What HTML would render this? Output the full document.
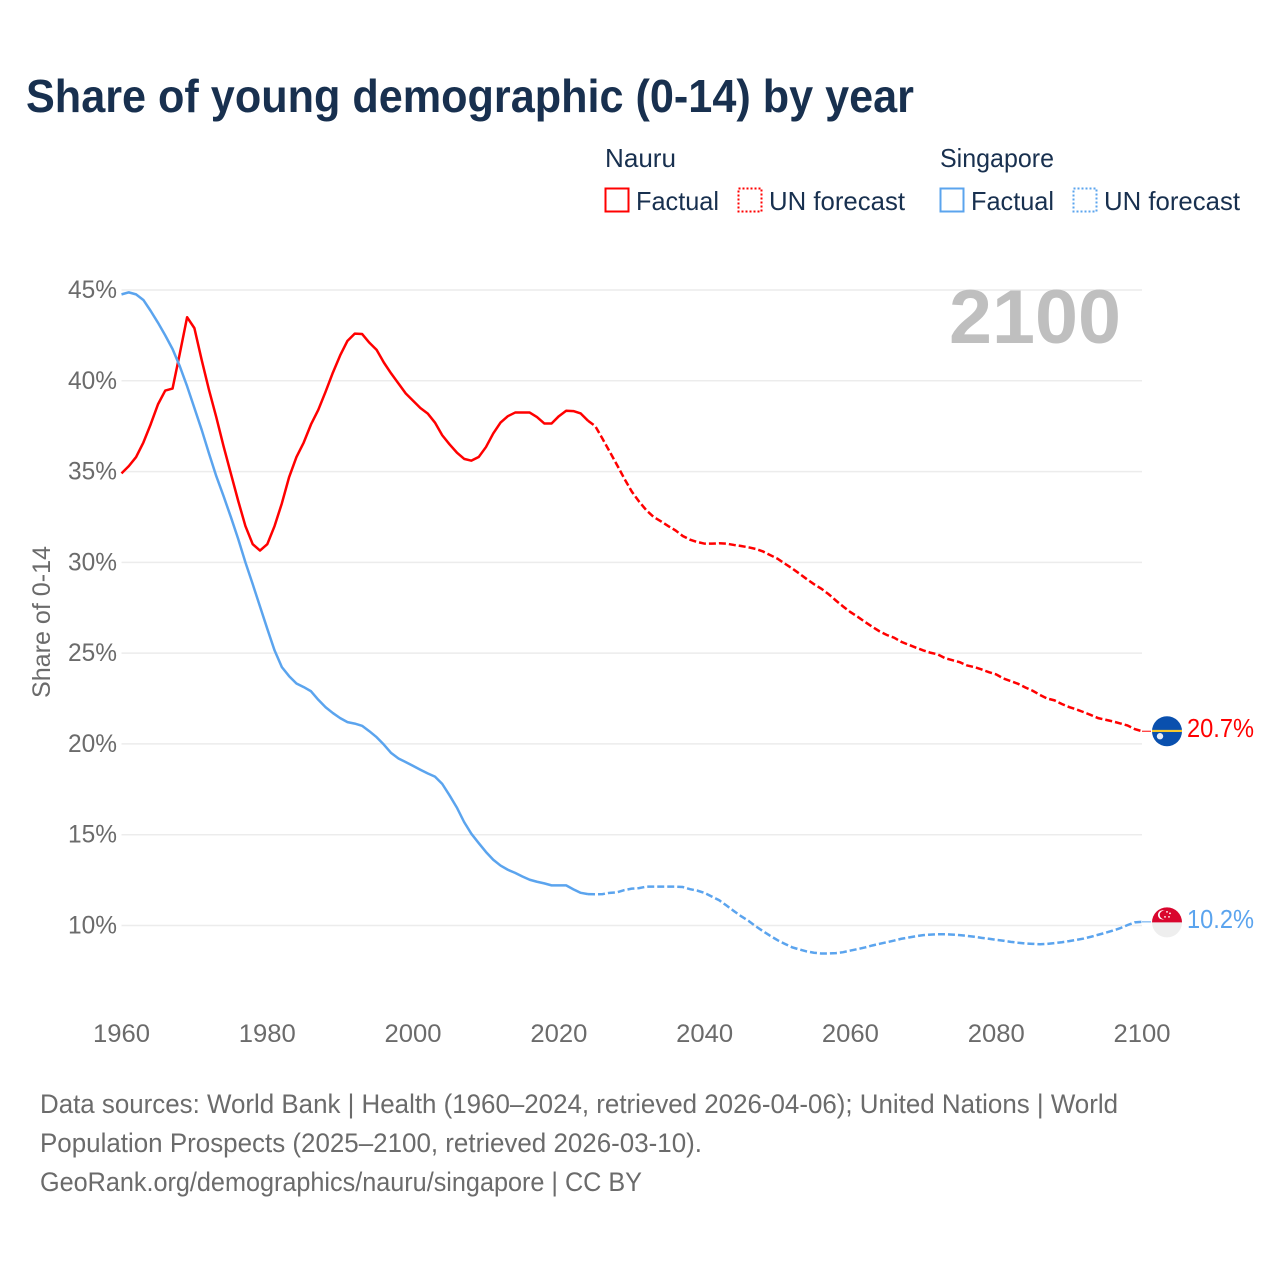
<!DOCTYPE html>
<html lang="en">
<head>
<meta charset="utf-8">
<title>Share of young demographic (0-14) by year</title>
<style>
html,body{margin:0;padding:0;background:#fff;}
svg{display:block;font-family:"Liberation Sans",sans-serif;}
</style>
</head>
<body>
<svg id="chart" xmlns="http://www.w3.org/2000/svg" width="1280" height="1280" viewBox="0 0 1280 1280">
  <rect x="0" y="0" width="1280" height="1280" fill="#ffffff"/>
  <text x="26" y="112" font-size="46" font-weight="700" fill="#18304f" textLength="888" lengthAdjust="spacingAndGlyphs">Share of young demographic (0-14) by year</text>

  <g font-size="26" fill="#18304f">
    <text x="605" y="167" textLength="71" lengthAdjust="spacingAndGlyphs">Nauru</text>
    <text x="940" y="167" textLength="114" lengthAdjust="spacingAndGlyphs">Singapore</text>
    <rect x="605.5" y="188.5" width="23" height="23" fill="none" stroke="#ff0000" stroke-width="2"/>
    <text x="636" y="210" textLength="83" lengthAdjust="spacingAndGlyphs">Factual</text>
    <rect x="738.5" y="188.5" width="23" height="23" fill="none" stroke="#ff0000" stroke-width="2" stroke-dasharray="2 2"/>
    <text x="769" y="210" textLength="136" lengthAdjust="spacingAndGlyphs">UN forecast</text>
    <rect x="940.5" y="188.5" width="23" height="23" fill="none" stroke="#5ba4ee" stroke-width="2"/>
    <text x="971" y="210" textLength="83" lengthAdjust="spacingAndGlyphs">Factual</text>
    <rect x="1073.5" y="188.5" width="23" height="23" fill="none" stroke="#5ba4ee" stroke-width="2" stroke-dasharray="2 2"/>
    <text x="1104" y="210" textLength="136" lengthAdjust="spacingAndGlyphs">UN forecast</text>
  </g>

  <text transform="translate(50,622) rotate(-90)" text-anchor="middle" font-size="25" fill="#6b6b6b" textLength="152" lengthAdjust="spacingAndGlyphs">Share of 0-14</text>

  <g id="grid-layer"></g>
  <text x="949" y="343" font-size="76" font-weight="700" fill="#bfbfbf" textLength="172" lengthAdjust="spacingAndGlyphs">2100</text>
  <g id="x-layer"></g>
  <g id="series-layer"></g>

  <g font-size="27" fill="#6b6b6b">
    <text x="40" y="1113" textLength="1078" lengthAdjust="spacingAndGlyphs">Data sources: World Bank | Health (1960–2024, retrieved 2026-04-06); United Nations | World</text>
    <text x="40" y="1152" textLength="662" lengthAdjust="spacingAndGlyphs">Population Prospects (2025–2100, retrieved 2026-03-10).</text>
    <text x="40" y="1191" textLength="602" lengthAdjust="spacingAndGlyphs">GeoRank.org/demographics/nauru/singapore | CC BY</text>
  </g>
</svg>

<script>
var firstYear = 1960;
var forecastStartYear = 2024;
var yTicks = [45, 40, 35, 30, 25, 20, 15, 10];
var xTicks = [1960, 1980, 2000, 2020, 2040, 2060, 2080, 2100];

var nauruFactual = [
  34.9,35.3,35.8,36.6,37.6,38.7,39.46,39.57,41.5,43.5,
  42.9,41.15,39.5,38.0,36.4,34.9,33.4,32.0,31.0,30.65,
  31.0,32.0,33.25,34.7,35.8,36.6,37.6,38.4,39.4,40.45,
  41.4,42.2,42.6,42.58,42.1,41.7,41.0,40.4,39.85,39.3,
  38.9,38.5,38.2,37.7,37.0,36.5,36.05,35.7,35.6,35.8,
  36.35,37.1,37.7,38.05,38.25,38.25,38.25,38.0,37.65,37.65,
  38.05,38.35,38.33,38.2,37.8
];
var nauruForecast = [
  37.8,37.5,36.8,36.08,35.35,34.6,33.9,33.35,32.87,32.5,
  32.26,32.0,31.76,31.45,31.25,31.12,31.03,31.03,31.05,31.03,
  30.96,30.9,30.83,30.74,30.6,30.4,30.2,29.93,29.67,29.38,
  29.08,28.8,28.55,28.25,27.9,27.57,27.26,27.0,26.72,26.45,
  26.2,26.0,25.85,25.62,25.46,25.3,25.15,25.02,24.93,24.72,
  24.61,24.5,24.32,24.23,24.1,23.95,23.83,23.6,23.46,23.31,
  23.11,22.93,22.7,22.5,22.4,22.2,22.03,21.9,21.75,21.59,
  21.42,21.33,21.24,21.13,21.02,20.82,20.7
];
var singaporeFactual = [
  44.76,44.87,44.76,44.45,43.85,43.2,42.5,41.75,40.8,39.7,
  38.5,37.3,36.0,34.75,33.65,32.5,31.3,30.0,28.8,27.57,
  26.34,25.15,24.23,23.73,23.33,23.13,22.9,22.43,22.02,21.7,
  21.42,21.2,21.12,21.0,20.7,20.37,19.96,19.5,19.2,19.0,
  18.79,18.58,18.38,18.2,17.8,17.17,16.5,15.7,15.05,14.54,
  14.05,13.62,13.3,13.07,12.9,12.7,12.52,12.41,12.32,12.21,
  12.21,12.21,11.99,11.8,11.73
];
var singaporeForecast = [
  11.73,11.72,11.73,11.8,11.83,11.95,12.03,12.06,12.14,12.14,
  12.14,12.14,12.14,12.12,12.0,11.92,11.79,11.59,11.39,11.1,
  10.8,10.51,10.26,9.96,9.69,9.43,9.19,8.99,8.8,8.68,
  8.57,8.5,8.46,8.46,8.48,8.53,8.62,8.7,8.79,8.9,
  8.99,9.08,9.17,9.27,9.34,9.41,9.47,9.5,9.52,9.52,
  9.5,9.47,9.43,9.38,9.32,9.27,9.21,9.16,9.1,9.05,
  9.01,8.99,8.97,8.99,9.03,9.08,9.14,9.21,9.28,9.38,
  9.49,9.6,9.72,9.85,10.02,10.17,10.2
];

var NS = 'http://www.w3.org/2000/svg';
var RED = '#ff0000';
var BLUE = '#5ba4ee';

function xScale(year) {
  return 121.5 + (year - 1960) * (1142 - 121.5) / 140;
}
function yScale(value) {
  return 290 + (45 - value) * (925.5 - 290) / 35;
}
function make(tag, parent) {
  var el = document.createElementNS(NS, tag);
  parent.appendChild(el);
  return el;
}
function linePath(values, startYear) {
  var d = '';
  for (var i = 0; i < values.length; i++) {
    d += (i ? 'L' : 'M') + xScale(startYear + i).toFixed(2) + ' ' + yScale(values[i]).toFixed(2);
  }
  return d;
}

var gridLayer = document.getElementById('grid-layer');
var xLayer = document.getElementById('x-layer');
var seriesLayer = document.getElementById('series-layer');

yTicks.forEach(function (tick) {
  var line = make('line', gridLayer);
  
  
  line.setAttribute('x1', xScale(1960));
  line.setAttribute('x2', xScale(2100));
  line.setAttribute('y1', yScale(tick));
  line.setAttribute('y2', yScale(tick));
  line.setAttribute('stroke', '#ececec');
  line.setAttribute('stroke-width', '1.5');
  var label = make('text', gridLayer);
  
  
  label.setAttribute('x', 117);
  label.setAttribute('y', yScale(tick) + 8);
  label.setAttribute('text-anchor', 'end');
  label.setAttribute('font-size', '25');
  label.setAttribute('fill', '#6b6b6b');
  label.setAttribute('textLength', '49');
  label.setAttribute('lengthAdjust', 'spacingAndGlyphs');
  label.textContent = tick + '%';
});

xTicks.forEach(function (tick) {
  var label = make('text', xLayer);
  
  
  label.setAttribute('x', xScale(tick));
  label.setAttribute('y', 1042);
  label.setAttribute('text-anchor', 'middle');
  label.setAttribute('font-size', '25');
  label.setAttribute('fill', '#6b6b6b');
  label.setAttribute('textLength', '57');
  label.setAttribute('lengthAdjust', 'spacingAndGlyphs');
  label.textContent = tick;
});

function drawSeries(key, color, factual, forecast) {
  var solid = make('path', seriesLayer);
  
  
  solid.setAttribute('d', linePath(factual, firstYear));
  solid.setAttribute('fill', 'none');
  solid.setAttribute('stroke', color);
  solid.setAttribute('stroke-width', '2.5');
  solid.setAttribute('stroke-linejoin', 'round');

  var dashed = make('path', seriesLayer);
  
  
  dashed.setAttribute('d', linePath(forecast, forecastStartYear));
  dashed.setAttribute('fill', 'none');
  dashed.setAttribute('stroke', color);
  dashed.setAttribute('stroke-width', '2.5');
  dashed.setAttribute('stroke-dasharray', '7 3');

  var last = forecast[forecast.length - 1];
  var yEnd = yScale(last);

  var connector = make('line', seriesLayer);
  
  
  connector.setAttribute('x1', xScale(2100));
  connector.setAttribute('x2', 1151);
  connector.setAttribute('y1', yEnd);
  connector.setAttribute('y2', yEnd);
  connector.setAttribute('stroke', color);
  connector.setAttribute('stroke-width', '1');

  var value = make('text', seriesLayer);
  
  
  value.setAttribute('x', 1187);
  value.setAttribute('y', yEnd + 6);
  value.setAttribute('font-size', '26');
  value.setAttribute('fill', color);
  value.setAttribute('textLength', '67');
  value.setAttribute('lengthAdjust', 'spacingAndGlyphs');
  value.textContent = last.toFixed(1) + '%';
  return yEnd;
}

function circle(parent, cx, cy, r, fill) {
  var c = make('circle', parent);
  c.setAttribute('cx', cx);
  c.setAttribute('cy', cy);
  c.setAttribute('r', r);
  c.setAttribute('fill', fill);
  return c;
}

function drawNauruFlag(cy) {
  var cx = 1167;
  var g = make('g', seriesLayer);
  
  
  circle(g, cx, cy, 15, '#0a50ae');
  var band = make('path', g);
  band.setAttribute('d', 'M' + (cx - 15) + ' ' + (cy - 1.4) + 'H' + (cx + 15) + 'V' + (cy + 0.8) + 'H' + (cx - 15) + 'Z');
  band.setAttribute('fill', '#f6c92e');
  circle(g, cx - 7, cy + 5, 3.2, '#e9eef7');
}

function drawSingaporeFlag(cy) {
  var cx = 1167;
  var g = make('g', seriesLayer);
  
  
  circle(g, cx, cy + 0.5, 15, '#eeeeee');
  var top = make('path', g);
  top.setAttribute('d', 'M' + (cx - 15) + ' ' + (cy + 0.5) + 'A15 15 0 0 1 ' + (cx + 15) + ' ' + (cy + 0.5) + 'Z');
  top.setAttribute('fill', '#d9062e');
  circle(g, cx - 4.5, cy - 7, 4.6, '#ffffff');
  circle(g, cx - 3, cy - 7, 4.3, '#d9062e');
  circle(g, cx, cy - 10, 0.9, '#ffffff');
  circle(g, cx + 3, cy - 8.5, 0.9, '#ffffff');
  circle(g, cx + 2, cy - 5, 0.9, '#ffffff');
  circle(g, cx - 2, cy - 5, 0.9, '#ffffff');
}

var nauruEnd = drawSeries('nauru', RED, nauruFactual, nauruForecast);
var singaporeEnd = drawSeries('singapore', BLUE, singaporeFactual, singaporeForecast);
drawNauruFlag(nauruEnd);
drawSingaporeFlag(singaporeEnd);
</script>
</body>
</html>
